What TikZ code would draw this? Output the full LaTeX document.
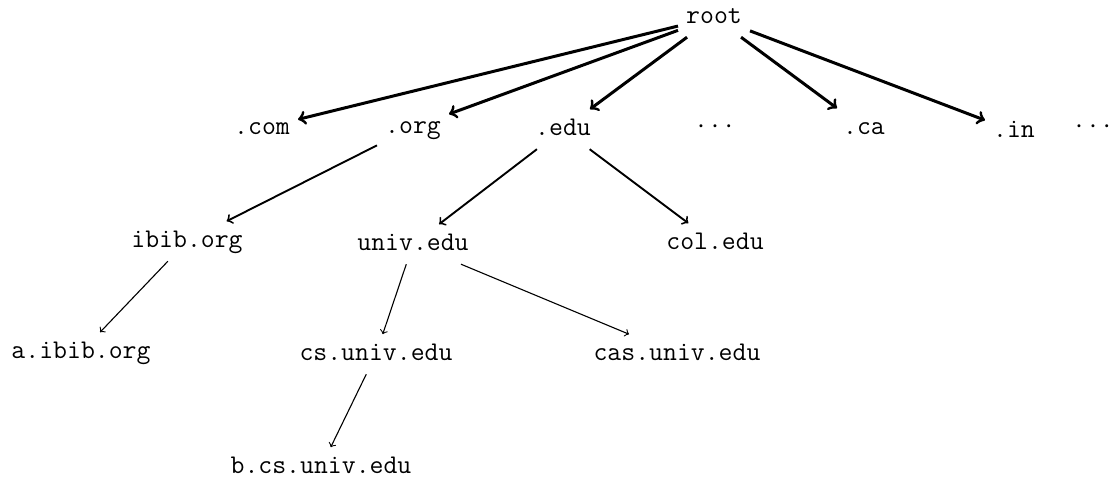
\documentclass[tikz,border=0pt]{standalone}
\usepackage{fontspec}
\begin{document}
\begin{tikzpicture}[x=0.5pt,y=-0.5pt,
  dn/.style={font=\ttfamily\fontsize{13.5}{16}\selectfont, text height=8.8pt, text depth=3pt, inner sep=3.9pt, anchor=base},
  dots/.style={dn, inner sep=0pt},
  eA/.style={->, line width=1.5pt},
  eB/.style={->, line width=0.95pt},
  eC/.style={->, line width=0.55pt}]
\useasboundingbox (0,0) rectangle (1111,489);
\node[dn] (root) at (714,23) {root};
\node[dn] (com) at (262,134) {.com};
\node[dn] (org) at (413,133) {.org};
\node[dn] (edu) at (563,135) {.edu};
\node[dots] (d1) at (715,134) {···};
\node[dn] (ca) at (864,134) {.ca};
\node[dn] (in) at (1014,137) {.in};
\node[dots] (d2) at (1093,134) {···};
\node[dn] (ibib) at (187,247) {ibib.org};
\node[dn] (univ) at (413,250) {univ.edu};
\node[dn] (col) at (715,249) {col.edu};
\node[dn] (aibib) at (81,358) {a.ibib.org};
\node[dn] (cs) at (376,360) {cs.univ.edu};
\node[dn] (cas) at (677,360) {cas.univ.edu};
\node[dn] (bcs) at (321,473) {b.cs.univ.edu};
\draw[eA] (root) -- (com);
\draw[eA] (root) -- (org);
\draw[eA] (root) -- (edu);
\draw[eA] (root) -- (ca);
\draw[eA] (root) -- (in);
\draw[eB] (org) -- (ibib);
\draw[eB] (edu) -- (univ);
\draw[eB] (edu) -- (col);
\draw[eC] (ibib) -- (aibib);
\draw[eC] (univ) -- (cs);
\draw[eC] (univ) -- (cas);
\draw[eC] (cs) -- (bcs);
\end{tikzpicture}
\end{document}
